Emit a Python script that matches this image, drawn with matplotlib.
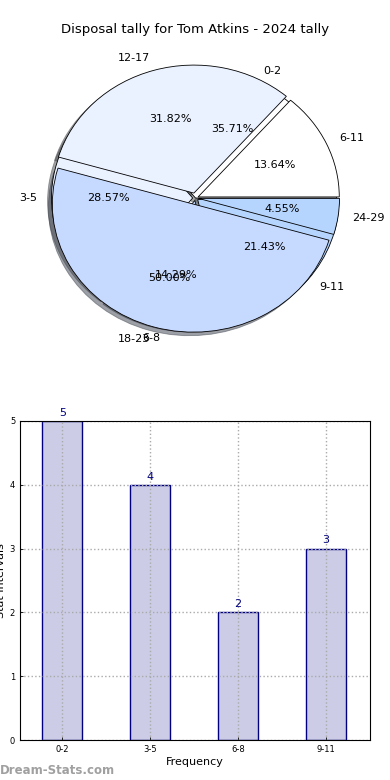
import matplotlib
matplotlib.use('Agg')
import matplotlib.pyplot as plt
import numpy as np

# pie data (two overlaid pies, as in the original)
inner_labels = ['0-2', '3-5', '6-8', '9-11']
inner_values = [5, 4, 2, 3]
outer_labels = ['6-11', '12-17', '18-23', '24-29']
outer_values = [3, 7, 11, 1]
pie_colors = ['#FFFFFF', '#EAF1FF', '#C6D9FF', '#B5D5FF']

# bar data
bar_labels = ['0-2', '3-5', '6-8', '9-11']
bar_values = [5, 4, 2, 3]

fig = plt.figure(figsize=(3.9, 7.8), dpi=100)
fig.text(0.5, 1 - 30 / 780, 'Disposal tally for Tom Atkins - 2024 tally',
         ha='center', va='center', fontsize=9.5)

# pie
ax1 = fig.add_axes([19 / 390, 1 - 358 / 780, 353 / 390, 320 / 780])
wp = {'edgecolor': 'black', 'linewidth': 0.6}
ax1.pie(inner_values, labels=inner_labels, colors=pie_colors, autopct='%.2f%%',
        explode=[0, 0.02, 0.02, 0.02], shadow=True, wedgeprops=wp,
        textprops={'fontsize': 8})
ax1.pie(outer_values, labels=outer_labels, colors=pie_colors, autopct='%.2f%%',
        explode=[0.02, 0.04, 0.05, 0.02], shadow=True, wedgeprops=wp,
        textprops={'fontsize': 8})
ax1.set_aspect('auto')
ax1.set_xlim(-1.25, 1.25)
ax1.set_ylim(-1.25, 1.25)

# bars
ax2 = fig.add_axes([20 / 390, 1 - 740 / 780, 350 / 390, 319 / 780])
x = np.arange(len(bar_labels))
ax2.bar(x, bar_values, width=0.45, color='#CCCCE6', edgecolor='#000080',
        linewidth=1, zorder=1)
for xi, v in zip(x, bar_values):
    ax2.text(xi, v + 0.05, str(v), ha='center', va='bottom', color='#000080',
             fontsize=8)
ax2.set_xticks(x)
ax2.set_xticklabels(bar_labels)
ax2.set_yticks(range(0, 6))
ax2.set_xlim(-0.48, 3.5)
ax2.set_ylim(0, 5)
ax2.tick_params(labelsize=6, direction='in', length=2, width=0.6)
ax2.set_axisbelow('line')
ax2.grid(True, linestyle=':', color='#AAAAAA', linewidth=1)
ax2.set_xlabel('Frequency', fontsize=8, labelpad=2)
ax2.set_ylabel('Stat Intervals', fontsize=8, labelpad=3)
for s in ax2.spines.values():
    s.set_linewidth(0.8)

fig.text(0.0, 1 - 770 / 780, 'Dream-Stats.com', ha='left', va='center',
         fontsize=8.5, color='#A0A0A0', fontweight='bold')

fig.savefig('out.png', dpi=100)
